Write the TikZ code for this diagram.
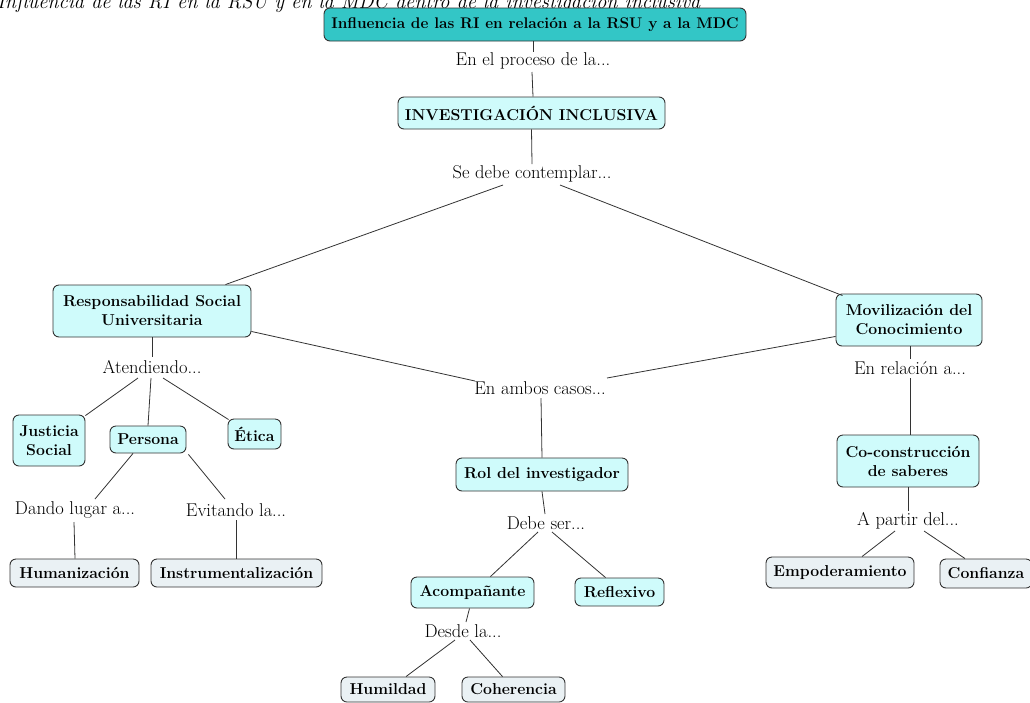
\documentclass[tikz,border=0pt]{standalone}
\usepackage{fontspec}
\usetikzlibrary{calc}
\definecolor{topfill}{HTML}{33C6C6}
\definecolor{mainfill}{HTML}{CFFBFB}
\definecolor{leaffill}{HTML}{EAF1F4}
\definecolor{edgec}{HTML}{333333}
\tikzset{
  x=1pt,y=-1pt,
  box/.style={draw=edgec,line width=0.9pt,rounded corners=6pt,align=center,
     font=\fontsize{15.8}{19}\selectfont\bfseries,inner sep=0pt},
  topbox/.style={box,fill=topfill,font=\fontsize{15.4}{18}\selectfont\bfseries},
  mainbox/.style={box,fill=mainfill},
  leafbox/.style={box,fill=leaffill},
  lbl/.style={font=\fontsize{18.5}{20}\selectfont,inner sep=1pt},
  conn/.style={draw=edgec,line width=0.8pt}
}
\begin{document}
\begin{tikzpicture}
\useasboundingbox (0,0) rectangle (1030,702);
\node[anchor=base west,inner sep=0pt,font=\fontsize{20.3}{22}\selectfont\itshape] (cap) at (-3,8) {Influencia de las RI en la RSU y en la MDC dentro de la investigación inclusiva};

\node[topbox,minimum width=422,minimum height=33] (top) at (535,24.5) {Influencia de las RI en relación a la RSU y a la MDC};
\node[lbl] (l1) at (533,61) {En el proceso de la...};
\node[mainbox,minimum width=267,minimum height=32] (inv) at (531.5,113) {INVESTIGACIÓN INCLUSIVA};
\node[lbl] (l2) at (532,174) {Se debe contemplar...};

\node[mainbox,minimum width=198,minimum height=52] (rsu) at (152,311) {Responsabilidad Social\\Universitaria};
\node[mainbox,minimum width=146,minimum height=52] (mdc) at (909,320) {Movilización del\\Conocimiento};

\node[lbl] (l3) at (152,367) {Atendiendo...};
\node[lbl] (l4) at (540,388) {En ambos casos...};
\node[lbl] (l5) at (910,368) {En relación a...};

\node[mainbox,minimum width=72,minimum height=51] (jus) at (49,440.5) {Justicia\\Social};
\node[mainbox,minimum width=76,minimum height=27] (per) at (148,439.5) {Persona};
\node[mainbox,minimum width=53,minimum height=30] (eti) at (254.5,434) {Ética};

\node[lbl] (l6) at (75,510) {Dando lugar a...};
\node[lbl] (l7) at (236,510) {Evitando la...};
\node[leafbox,minimum width=129,minimum height=28] (hum) at (74.5,573) {Humanización};
\node[leafbox,minimum width=171,minimum height=28] (ins) at (236.5,573) {Instrumentalización};

\node[mainbox,minimum width=172,minimum height=33] (rol) at (542,474.5) {Rol del investigador};
\node[lbl] (l8) at (546,523) {Debe ser...};
\node[mainbox,minimum width=123,minimum height=31] (aco) at (472.5,592.5) {Acompañante};
\node[mainbox,minimum width=89,minimum height=28] (ref) at (619.5,592) {Reflexivo};
\node[lbl] (l9) at (463,631) {Desde la...};
\node[leafbox,minimum width=94,minimum height=25] (hml) at (388,689.5) {Humildad};
\node[leafbox,minimum width=103,minimum height=25] (coh) at (513.5,689.5) {Coherencia};

\node[mainbox,minimum width=142,minimum height=52] (coc) at (908,461) {Co-construcción\\de saberes};
\node[lbl] (l10) at (908,521) {A partir del...};
\node[leafbox,minimum width=148,minimum height=31] (emp) at (840,572.5) {Empoderamiento};
\node[leafbox,minimum width=92,minimum height=29] (con) at (986,573.5) {Confianza};

% connectors
\draw[conn] (top.south -| l1) -- ($(l1)+(0,-9)$);
\draw[conn] ($(l1)+(-1,11)$) -- (inv.north -| l1);
\draw[conn] (inv.south) -- ($(l2)+(0,-10)$);
\draw[conn] ($(l2)+(-29,11)$) -- ($(rsu.north east)+(-26,0)$);
\draw[conn] ($(l2)+(28,11)$) -- ($(mdc.north west)+(7,2)$);
\draw[conn] (rsu.south) -- ($(l3)+(0,-10)$);
\draw[conn] ($(rsu.south east)+(0,-6)$) -- ($(l4)+(-65,-7)$);
\draw[conn] ($(mdc.south west)+(0,-10)$) -- ($(l4)+(67,-10)$);
\draw[conn] (mdc.south -| l5) -- ($(l5)+(0,-9)$);
\draw[conn] ($(l5)+(0,10)$) -- (coc.north -| l5);
\draw[conn] ($(l3)+(-14,11)$) -- ($(jus.north east)+(0,1)$);
\draw[conn] ($(l3)+(-1,11)$) -- (per.north);
\draw[conn] ($(l3)+(11,11)$) -- ($(eti.north west)+(1,1)$);
\draw[conn] ($(per.south)+(-15,0)$) -- ($(l6)+(20,-11)$);
\draw[conn] ($(per.south east)+(2,1)$) -- ($(l7)+(-11,-11)$);
\draw[conn] ($(l6)+(-1,12)$) -- (hum.north -| l6);
\draw[conn] ($(l7)+(0,10)$) -- (ins.north -| l7);
\draw[conn] ($(l4)+(1,10)$) -- (rol.north);
\draw[conn] (rol.south) -- ($(l8)+(-1,-9)$);
\draw[conn] ($(l8)+(-8,9)$) -- ($(aco.north east)+(-44,0)$);
\draw[conn] ($(l8)+(6,9)$) -- ($(ref.north west)+(31,0)$);
\draw[conn] ($(aco.south)+(-3,0)$) -- ($(l9)+(3,-9)$);
\draw[conn] ($(l9)+(-8,9)$) -- ($(hml.north)+(18,0)$);
\draw[conn] ($(l9)+(7,9)$) -- ($(coh.north)+(-11,0)$);
\draw[conn] (coc.south) -- ($(l10)+(0,-10)$);
\draw[conn] ($(l10)+(-13,10)$) -- ($(emp.north)+(22,0)$);
\draw[conn] ($(l10)+(16,10)$) -- ($(con.north)+(-21,0)$);
\end{tikzpicture}
\end{document}
